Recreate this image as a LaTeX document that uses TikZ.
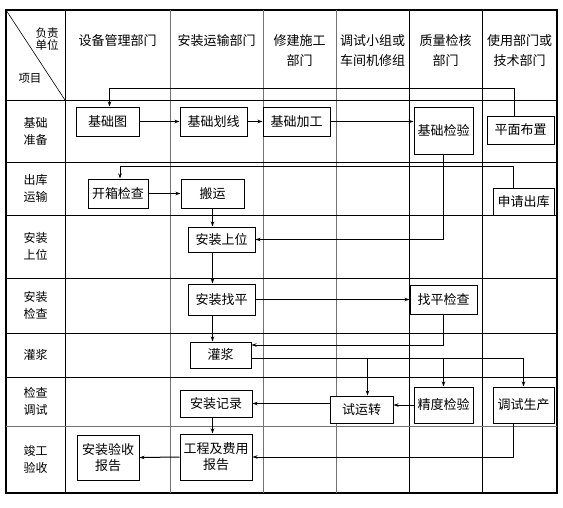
\documentclass[tikz,border=0pt]{standalone}
\usepackage{fontspec}
\setmainfont{Noto Sans CJK SC}
\usetikzlibrary{arrows.meta,calc}
\definecolor{GridClr}{gray}{0.45}
\tikzset{
  box/.style={draw,fill=white,line width=1pt,inner sep=0pt,align=center,font=\fontsize{13}{16}\selectfont},
  arr/.style={line width=1pt,-{Stealth[length=5pt,width=3.5pt]}},
  hdr/.style={align=center,inner sep=0pt,anchor=north,font=\fontsize{13}{20}\selectfont},
  rowlbl/.style={align=center,inner sep=0pt,font=\fontsize{12}{17}\selectfont}
}
\newcommand{\flowbox}[6]{\node[box,minimum width=#4pt,minimum height=#5pt] (#1) at (#2,#3) {#6};}

\begin{document}
\begin{tikzpicture}[x=1pt,y=-1pt]
\useasboundingbox (0,0) rectangle (563,507);

\draw[line width=1.4pt] (6,10) rectangle (557,493);
\foreach \x in {65,409,482} \draw[line width=0.8pt] (\x,10) -- (\x,493);
\foreach \x in {170,263,336} \draw[GridClr,line width=0.6pt] (\x,10) -- (\x,493);
\foreach \y in {100,162,215,278,333,377} \draw[line width=0.8pt] (6,\y) -- (557,\y);
\draw[GridClr,line width=0.8pt] (6,426) -- (557,426);
\draw[line width=0.6pt] (6,10) -- (65,100);

\node[align=center,inner sep=0pt,font=\fontsize{11.5}{12}\selectfont] (fzdw) at (47,39) {负责\\单位};
\node[inner sep=0pt,font=\fontsize{11.5}{12}\selectfont] (xm) at (30,78) {项目};

\foreach \x/\t [count=\i] in {117.5/{设备管理部门},216.5/{安装运输部门},299.5/{修建施工\\部门},
  372.5/{调试小组或\\车间机修组},445.5/{质量检核\\部门},519.5/{使用部门或\\技术部门}}
  \node[hdr] (col\i) at (\x,34) {\t};

\foreach \y/\t [count=\i] in {131/{基础\\准备},188.5/{出库\\运输},246.5/{安装\\上位},305.5/{安装\\检查},
  355/{灌浆},401.5/{检查\\调试},459.5/{竣工\\验收}}
  \node[rowlbl] (row\i) at (35.5,\y) {\t};

\flowbox{jctu}{107.5}{121.5}{63}{29}{基础图}
\flowbox{jchx}{213.5}{121.5}{67}{29}{基础划线}
\flowbox{jcjg}{296.5}{121.5}{67}{29}{基础加工}
\flowbox{jcjy}{443.5}{130.5}{59}{47}{基础检验}
\flowbox{pmbz}{520.5}{130}{67}{28}{平面布置}
\flowbox{kxjc}{118}{193.5}{60}{29}{开箱检查}
\flowbox{by}{212.5}{193.5}{63}{29}{搬运}
\flowbox{sqck}{523.5}{201.5}{61}{27}{申请出库}
\flowbox{azsw}{221.5}{239.5}{67}{25}{安装上位}
\flowbox{azzp}{221.5}{299.5}{67}{31}{安装找平}
\flowbox{zpjc}{443.5}{299.5}{67}{29}{找平检查}
\flowbox{gj}{220.5}{355}{61}{26}{灌浆}
\flowbox{azjl}{216}{403.5}{72}{27}{安装记录}
\flowbox{gcfy}{216}{457}{72}{46}{工程及费用\\报告}
\flowbox{azys}{108}{457.5}{62}{45}{安装验收\\报告}
\flowbox{syz}{361.5}{409.5}{63}{27}{试运转}
\flowbox{jdjy}{443.5}{405}{59}{36}{精度检验}
\flowbox{tssc}{523.5}{405}{61}{36}{调试生产}

\draw[arr] ([xshift=-6pt]pmbz.north) -- ++(0,-27) -| ([xshift=2pt]jctu.north);
\draw[arr] (jctu.east) -- (jchx.west);
\draw[arr] (jchx.east) -- (jcjg.west);
\draw[arr] (jcjg.east) -- (jcjg.east -| jcjy.west);
\draw[arr] ([xshift=-10pt]sqck.north) -- ++(0,-21) -| ([xshift=2pt]kxjc.north);
\draw[arr] (kxjc.east) -- (kxjc.east -| by.west);
\draw[arr] (jcjy.south) |- (azsw.east);
\draw[arr] (by.south) -- (by.south |- azsw.north);
\draw[arr] (by.south |- azsw.south) -- (by.south |- azzp.north);
\draw[arr] (by.south |- azzp.south) -- (by.south |- gj.north);
\draw[arr] (azzp.east) -- (zpjc.west);
\draw[arr] (zpjc.south) |- ([yshift=10pt]gj.east);

\coordinate (gjOut) at ([yshift=-3pt]gj.east);
\coordinate (syzIn) at ([xshift=6pt]syz.north);
\draw[arr] (gjOut) -| (tssc.north);
\draw[arr] (gjOut -| syzIn) -- (syzIn);
\draw[arr] (gjOut -| jdjy.north) -- (jdjy.north);
\draw[arr] (jdjy.west) -- (jdjy.west -| syz.east);
\draw[arr] (azjl.east -| syz.west) -- (azjl.east);
\draw[arr] (by.south |- azjl.south) -- (by.south |- gcfy.north);
\draw[arr] ([xshift=-10pt]tssc.south) |- (gcfy.east);
\draw[arr] (gcfy.west) -- (azys.east);

\end{tikzpicture}
\end{document}
